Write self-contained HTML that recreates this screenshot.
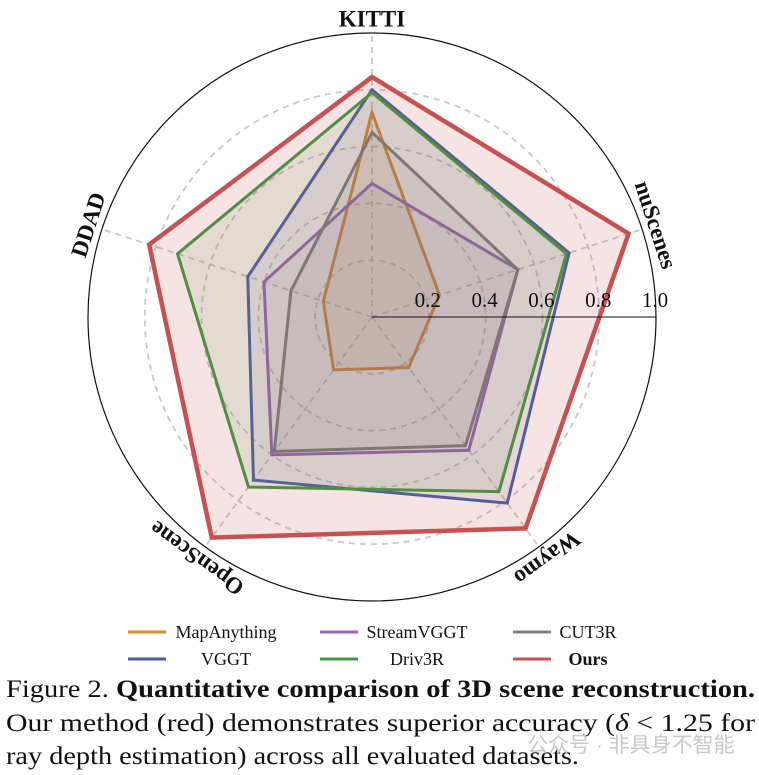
<!DOCTYPE html>
<html><head><meta charset="utf-8"><style>
html,body{margin:0;padding:0;background:#fff;width:759px;height:775px;overflow:hidden}
svg{display:block;font-family:"Liberation Serif","Noto Serif CJK SC",serif}
</style></head><body>
<svg id="chart" width="759" height="775" viewBox="0 0 759 775" xmlns="http://www.w3.org/2000/svg">
<g id="grid"></g>
<g id="polys"></g>
<g id="labels"></g>
<g id="legend"></g>
<g font-size="25" fill="#111">
<text x="6" y="697" textLength="749" lengthAdjust="spacingAndGlyphs">Figure 2. <tspan font-weight="bold">Quantitative comparison of 3D scene reconstruction.</tspan></text>
<text x="6" y="731" textLength="749" lengthAdjust="spacingAndGlyphs">Our method (red) demonstrates superior accuracy (<tspan font-style="italic">δ</tspan> &lt; 1.25 for</text>
<text x="6" y="764" textLength="573" lengthAdjust="spacingAndGlyphs">ray depth estimation) across all evaluated datasets.</text>
<text x="527" y="752" font-size="21" fill="#c8c8c8" font-family="'Liberation Sans','Noto Sans CJK SC',sans-serif">公众号 · 非具身不智能</text>
</g>
</svg>
<script>
const categories=["KITTI","nuScenes","Waymo","OpenScene","DDAD"];
const seriesNames=["MapAnything","StreamVGGT","CUT3R","VGGT","Driv3R","Ours"];
const mapAnything=[0.72,0.25,0.22,0.23,0.18];
const streamVGGT=[0.47,0.54,0.58,0.60,0.40];
const cut3r=[0.65,0.54,0.56,0.585,0.30];
const vggt=[0.80,0.73,0.81,0.71,0.46];
const driv3r=[0.79,0.72,0.76,0.74,0.72];
const ours=[0.845,0.95,0.92,0.96,0.825];
const tickLabels=["0.2","0.4","0.6","0.8","1.0"];
const tickValues=[0.2,0.4,0.6,0.8,1.0];
const colors=["#e08a2c","#9467bd","#7f7f7f","#4161a8","#3c9a3c","#c75050"];
const allSeries=[mapAnything,streamVGGT,cut3r,vggt,driv3r,ours];
const NS="http://www.w3.org/2000/svg";
const cx=372,cy=317,R=284;
function ang(i){return (90-72*i)*Math.PI/180;}
function pt(i,v){return [cx+R*v*Math.cos(ang(i)),cy-R*v*Math.sin(ang(i))];}
function mk(t,a,p){const e=document.createElementNS(NS,t);for(const k in a)e.setAttribute(k,a[k]);p.appendChild(e);return e;}
const grid=document.getElementById('grid');
const bg=mk('circle',{cx:cx,cy:cy,r:R,fill:'#fff',stroke:'none'},grid);


tickValues.slice(0,4).forEach(v=>{const c=mk('circle',{cx:cx,cy:cy,r:R*v,fill:'none',stroke:'#c8c8c8','stroke-width':1.8,'stroke-dasharray':'6,5'},grid);

});
categories.forEach((c,i)=>{const p=pt(i,1);const l=mk('line',{x1:cx,y1:cy,x2:p[0],y2:p[1],stroke:'#c8c8c8','stroke-width':1.8,'stroke-dasharray':'6,5'},grid);

});
const oc=mk('circle',{cx:cx,cy:cy,r:R,fill:'none',stroke:'#111','stroke-width':1.2},grid);


const polys=document.getElementById('polys');
allSeries.forEach((s,k)=>{const pts=s.map((v,i)=>pt(i,v).join(',')).join(' ');
const last=k===5;
const p=mk('polygon',{points:pts,fill:colors[k],'fill-opacity':last?0.16:0.1,stroke:colors[k],'stroke-width':last?4.5:3,'stroke-linejoin':'miter'},polys);

});
const ax=mk('line',{x1:cx,y1:cy,x2:cx+R,y2:cy,stroke:'#111','stroke-width':1},polys);


const labels=document.getElementById('labels');
tickValues.forEach((v,j)=>{const t=mk('text',{x:cx+R*v-1,y:307,'font-size':21,'text-anchor':'middle',fill:'#111'},labels);t.textContent=tickLabels[j];

});
const rot=[0,72,144,216,-72];
categories.forEach((c,i)=>{const p=pt(i,1.05);const t=mk('text',{x:p[0],y:p[1],'font-size':23,'font-weight':'bold','text-anchor':'middle','dominant-baseline':'central',fill:'#111',transform:`rotate(${rot[i]} ${p[0]} ${p[1]})`},labels);t.textContent=c;

});
const leg=document.getElementById('legend');
const lx=[128,320,513],ly=[632,659],tx=[226,417,588];
seriesNames.forEach((n,k)=>{const col=k%3,row=Math.floor(k/3);
const l=mk('line',{x1:lx[col],y1:ly[row],x2:lx[col]+38,y2:ly[row],stroke:colors[k],'stroke-width':3},leg);


const t=mk('text',{x:tx[col],y:ly[row]+6,'font-size':18,'text-anchor':'middle',fill:'#111','font-weight':k===5?'bold':'normal'},leg);t.textContent=n;

});
</script>
</body></html>
